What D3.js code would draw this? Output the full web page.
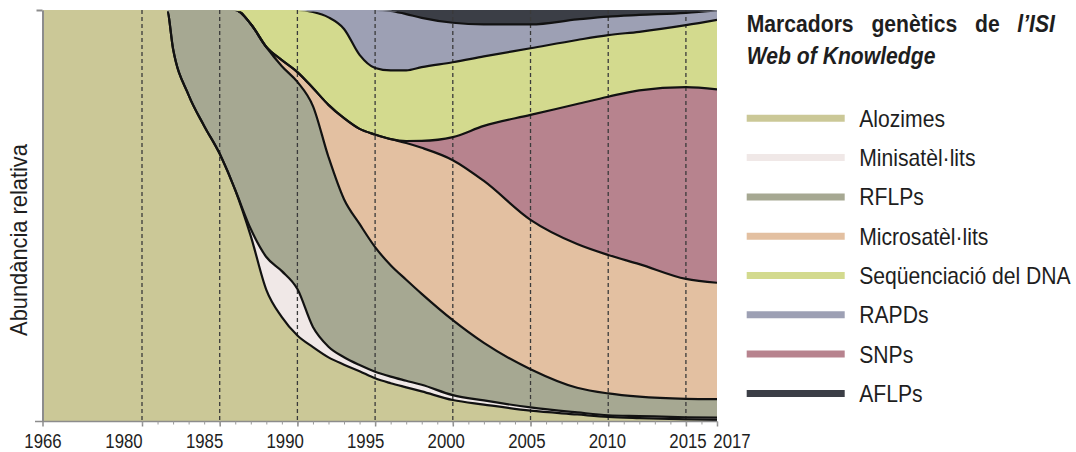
<!DOCTYPE html>
<html>
<head>
<meta charset="utf-8">
<script src="https://cdn.jsdelivr.net/npm/d3@7"></script>
<style>
    body { margin: 0; background: #ffffff; }
    svg text { font-family: "Liberation Sans", Arial, sans-serif; fill: #1e1e1e; }
</style>
</head>
<body>
<script>
// Years sampled from the figure (x axis is compressed before 1980)
const years = [1966, 1980, 1981.6, 1982, 1983, 1984, 1985, 1986, 1987, 1988, 1989, 1990, 1991, 1992,
               1993, 1994, 1995, 1996, 1997, 1998, 2000, 2002, 2005, 2008, 2010, 2012, 2015, 2017];

// Relative share (%) of each marker
const alozimes = [100, 100, 100, 90.5, 79.3, 71.8, 65.0, 56.2, 45.0, 31.9, 25.3, 20.8, 18.0, 15.5,
                  13.7, 12.1, 10.4, 9.2, 8.2, 7.2, 5.1, 4.0, 2.5, 1.6, 1.0, 0.7, 0.4, 0.25];
const minisat  = [0, 0, 0, 0, 0, 0, 0, 0, 1.7, 8.0, 11.2, 11.3, 4.9, 2.6,
                  1.8, 1.5, 1.6, 1.6, 1.6, 1.6, 1.2, 1.0, 0.8, 0.5, 0.4, 0.5, 0.5, 0.55];
const rflps    = [0, 0, 0, 9.5, 20.7, 28.2, 35.0, 43.8, 49.9, 51.1, 49.9, 50.4, 53.8, 46.2,
                  38.4, 34.3, 30.3, 27.1, 24.6, 22.1, 18.2, 14.0, 9.3, 6.0, 5.3, 4.7, 4.5, 4.5];
const micro    = [0, 0, 0, 0, 0, 0, 0, 0, 0, 0, 1.5, 2.4, 4.4, 12.7,
                  19.7, 23.1, 27.4, 30.7, 33.3, 35.5, 38.9, 39.4, 36.3, 35.0, 33.7, 32.2, 29.2, 28.3];
const snps     = [0, 0, 0, 0, 0, 0, 0, 0, 0, 0, 0, 0, 0, 0,
                  0, 0, 0, 0, 0.5, 1.7, 5.6, 13.4, 25.5, 34.1, 38.5, 42.2, 46.7, 47.0];
const seq      = [0, 0, 0, 0, 0, 0, 0, 0, 3.4, 9.0, 12.2, 15.1, 18.5, 21.3,
                  21.7, 18.0, 16.2, 16.7, 17.2, 17.9, 18.2, 16.9, 16.2, 15.6, 15.0, 14.2, 15.1, 16.9];
const rapds    = [0, 0, 0, 0, 0, 0, 0, 0, 0, 0, 0, 0, 0.5, 1.8,
                  4.6, 10.9, 14.1, 14.5, 13.7, 12.0, 9.6, 7.8, 5.8, 5.0, 4.5, 4.1, 3.0, 2.3];
const aflps    = [0, 0, 0, 0, 0, 0, 0, 0, 0, 0, 0, 0, 0, 0,
                  0, 0, 0, 0.2, 1.0, 1.9, 3.1, 3.5, 3.5, 2.3, 1.6, 1.2, 0.7, 0.1];

// Stacking order (bottom to top) and legend order
const stackKeys = ["alozimes", "minisat", "rflps", "micro", "snps", "seq", "rapds", "aflps"];
const legendKeys = ["alozimes", "minisat", "rflps", "micro", "seq", "rapds", "snps", "aflps"];
const legendLabels = ["Alozimes", "Minisatèl·lits", "RFLPs", "Microsatèl·lits",
                      "Seqüenciació del DNA", "RAPDs", "SNPs", "AFLPs"];

// Axis ticks
const majorYears = [1966, 1980, 1985, 1990, 1995, 2000, 2005, 2010, 2015, 2017];
const gridYears = [1980, 1985, 1990, 1995, 2000, 2005, 2010, 2015];
const minorYears = d3.range(1980, 2018);

const colors = {
    alozimes: "#cbc897",
    minisat: "#f0e8e7",
    rflps: "#a6a892",
    micro: "#e3c0a1",
    snps: "#b7838e",
    seq: "#d3da8e",
    rapds: "#9da0b4",
    aflps: "#3b3e46"
};

const seriesValues = { alozimes, minisat, rflps, micro, snps, seq, rapds, aflps };

drawChart();

function drawChart() {
    var svgWidth = 1076;
    var svgHeight = 452;

    var plot = { left: 42.5, right: 717, top: 10, bottom: 421 };

    const svg = d3.select("body").append("svg")
        .attr("width", svgWidth)
        .attr("height", svgHeight);

    // Piecewise x scale: the years before 1980 are squeezed
    const xScale = d3.scaleLinear()
        .domain([1966, 1980, 2017])
        .range([plot.left, 142, plot.right]);

    // Tick labels in the picture sit on their own, slightly different spacing
    const labelScale = d3.scaleLinear()
        .domain([1966, 1980, 2015, 2017])
        .range([43, 124, 688, 732]);

    const yScale = d3.scaleLinear()
        .domain([0, 1])
        .range([plot.bottom, plot.top]);

    const table = years.map(function(yr, i) {
        var row = { year: yr };
        stackKeys.forEach(function(k) { row[k] = seriesValues[k][i]; });
        return row;
    });

    const stacked = d3.stack()
        .keys(stackKeys)
        .offset(d3.stackOffsetExpand)(table);

    const area = d3.area()
        .x(d => xScale(d.data.year))
        .y0(d => yScale(d[0]))
        .y1(d => yScale(d[1]))
        .curve(d3.curveMonotoneX);

    const edge = d3.line()
        .x(d => xScale(d.data.year))
        .y(d => yScale(d[1]))
        .curve(d3.curveMonotoneX);

    svg.append("clipPath")
        .attr("id", "plotclip")
        .append("rect")
        .attr("x", plot.left)
        .attr("y", plot.top + 1.5)
        .attr("width", plot.right - plot.left)
        .attr("height", plot.bottom - plot.top - 1.5);

    // Filled layers
    svg.append("g").selectAll("path")
        .data(stacked)
        .enter()
        .append("path")
        .attr("d", area)
        .attr("fill", d => colors[d.key]);

    // Dashed year gridlines
    svg.append("g").selectAll("line")
        .data(gridYears)
        .enter()
        .append("line")
        .attr("x1", d => xScale(d))
        .attr("x2", d => xScale(d))
        .attr("y1", plot.top)
        .attr("y2", plot.bottom)
        .attr("stroke", "#3a3a3a")
        .attr("stroke-width", 1.3)
        .attr("stroke-dasharray", "4,3");

    // Black boundary between layers
    svg.append("g")
        .attr("clip-path", "url(#plotclip)")
        .selectAll("path")
        .data(stacked.slice(0, -1))
        .enter()
        .append("path")
        .attr("d", edge)
        .attr("fill", "none")
        .attr("stroke", "#121212")
        .attr("stroke-width", 2.2);

    // y axis (no labels, one tick at the top)
    const yAxis = svg.append("g")
        .attr("transform", `translate(${plot.left}, 0)`)
        .call(d3.axisLeft(yScale).tickValues([1]).tickFormat("").tickSize(6).tickSizeOuter(0));
    yAxis.selectAll("path, line").attr("stroke", "#8c8c8c").attr("stroke-width", 2);

    // x axis: major ticks, yearly minor ticks
    const xAxis = svg.append("g")
        .attr("transform", `translate(0, ${plot.bottom + 0.5})`)
        .call(d3.axisBottom(xScale).tickValues(majorYears).tickFormat("").tickSize(5).tickSizeOuter(0));
    xAxis.select(".domain").attr("d", `M35,0H${plot.right}`);
    xAxis.selectAll("path, line").attr("stroke", "#8c8c8c").attr("stroke-width", 1.5);

    const xMinor = svg.append("g")
        .attr("transform", `translate(0, ${plot.bottom + 0.5})`)
        .call(d3.axisBottom(xScale).tickValues(minorYears).tickFormat("").tickSize(3).tickSizeOuter(0));
    xMinor.select(".domain").remove();
    xMinor.selectAll("line").attr("stroke", "#9a9a9a").attr("stroke-width", 1);

    svg.append("g").selectAll("text")
        .data(majorYears)
        .enter()
        .append("text")
        .attr("transform", d => `translate(${labelScale(d)}, 448) scale(0.8, 1)`)
        .attr("text-anchor", "middle")
        .style("font-size", "21px")
        .text(d => d);

    // y label
    svg.append("text")
        .attr("transform", "translate(27, 240) rotate(-90) scale(0.95, 1)")
        .attr("text-anchor", "middle")
        .style("font-size", "23px")
        .text("Abundància relativa");

    // Legend title (first line justified)
    var titleLeft = 746.7, titleRight = 1055, titleScale = 0.92;
    var words = ["Marcadors", "genètics", "de", "l’ISI"];
    var wordNodes = words.map(function(w, i) {
        return svg.append("text")
            .style("font-size", "23px")
            .style("font-weight", "bold")
            .style("font-style", i === 3 ? "italic" : "normal")
            .text(w);
    });
    var widths = wordNodes.map(n => n.node().getComputedTextLength() * titleScale);
    var gap = (titleRight - titleLeft - d3.sum(widths)) / (words.length - 1);
    var cursor = titleLeft;
    wordNodes.forEach(function(n, i) {
        n.attr("transform", `translate(${cursor}, 31.5) scale(${titleScale}, 1)`);
        cursor += widths[i] + gap;
    });

    svg.append("text")
        .attr("transform", `translate(${titleLeft}, 63.5) scale(${titleScale}, 1)`)
        .style("font-size", "23px")
        .style("font-weight", "bold")
        .style("font-style", "italic")
        .text("Web of Knowledge");

    // Legend entries
    const legend = svg.append("g").selectAll("g")
        .data(legendKeys)
        .enter()
        .append("g")
        .attr("transform", (d, i) => `translate(746.7, ${118.3 + i * 39.3})`);

    legend.append("line")
        .attr("x1", 0)
        .attr("x2", 98)
        .attr("stroke", d => colors[d])
        .attr("stroke-width", 7);

    legend.append("text")
        .attr("transform", "translate(112.5, 8.4) scale(0.92, 1)")
        .style("font-size", "23px")
        .text((d, i) => legendLabels[i]);
}
</script>
</body>
</html>
